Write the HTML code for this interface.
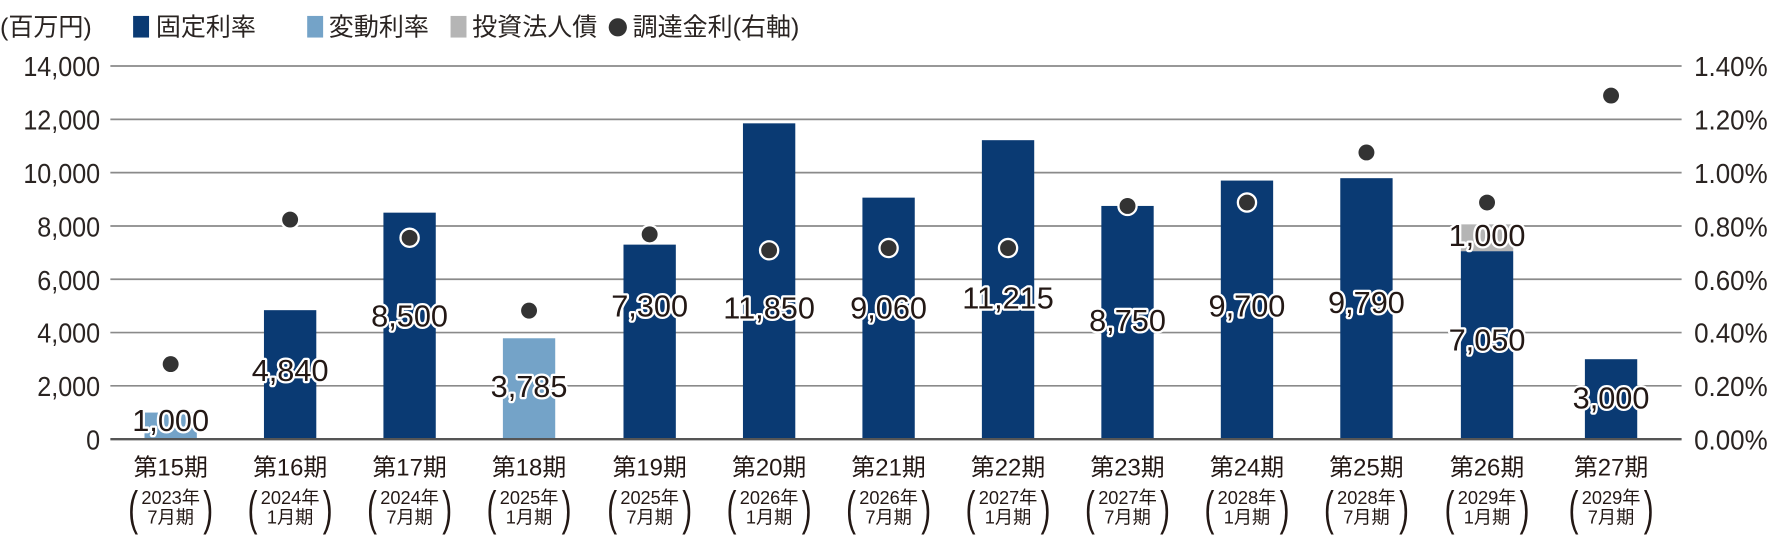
<!DOCTYPE html>
<html><head><meta charset="utf-8"><style>
html,body{margin:0;padding:0;background:#fff;}
svg{display:block;font-family:"Liberation Sans","Noto Sans CJK JP",sans-serif;}
.ax{font-size:24px;fill:#2a2422;}
.lb{font-size:27px;fill:#231815;stroke:#fff;stroke-width:4px;paint-order:stroke;stroke-linejoin:round;font-weight:500;}
.xl{font-size:21px;fill:#231815;}
.xs{font-size:16px;fill:#231815;}
.pr{font-size:26px;fill:#231815;font-weight:300;}
</style></head><body>
<svg width="1784" height="540" viewBox="0 0 1568 474.6" preserveAspectRatio="none">
<g class="ax" style="font-size:22px">
<text x="0" y="31">(百万円)</text>
<rect x="117" y="14" width="14" height="19" fill="#0a3a73"/><text x="137" y="31">固定利率</text>
<rect x="270" y="14" width="14" height="19" fill="#74a3c8"/><text x="289" y="31">変動利率</text>
<rect x="396" y="14" width="14" height="19" fill="#b5b5b5"/><text x="415" y="31">投資法人債</text>
<circle cx="543" cy="24" r="8" fill="#333"/><text x="556" y="31">調達金利(右軸)</text>
</g>
<g stroke="#8a8a8a" stroke-width="1.5">
<line x1="97" x2="1478" y1="58" y2="58"/>
<line x1="97" x2="1478" y1="104.9" y2="104.9"/>
<line x1="97" x2="1478" y1="151.7" y2="151.7"/>
<line x1="97" x2="1478" y1="198.6" y2="198.6"/>
<line x1="97" x2="1478" y1="245.4" y2="245.4"/>
<line x1="97" x2="1478" y1="292.3" y2="292.3"/>
<line x1="97" x2="1478" y1="339.1" y2="339.1"/>
</g>
<g class="ax" text-anchor="end" transform="translate(88,0) scale(0.92,1)">
<text x="0" y="67">14,000</text><text x="0" y="114">12,000</text><text x="0" y="161">10,000</text>
<text x="0" y="208">8,000</text><text x="0" y="255">6,000</text><text x="0" y="301">4,000</text>
<text x="0" y="348">2,000</text><text x="0" y="395">0</text>
</g>
<g class="ax" transform="translate(1489,0) scale(0.95,1)">
<text x="0" y="67">1.40%</text><text x="0" y="114">1.20%</text><text x="0" y="161">1.00%</text>
<text x="0" y="208">0.80%</text><text x="0" y="255">0.60%</text><text x="0" y="301">0.40%</text>
<text x="0" y="348">0.20%</text><text x="0" y="395">0.00%</text>
</g>
<g>
<rect x="127" y="362.6" width="46" height="23.4" fill="#74a3c8"/>
<rect x="232" y="272.6" width="46" height="113.4" fill="#0a3a73"/>
<rect x="337" y="186.9" width="46" height="199.1" fill="#0a3a73"/>
<rect x="442" y="297.3" width="46" height="88.7" fill="#74a3c8"/>
<rect x="548" y="215" width="46" height="171" fill="#0a3a73"/>
<rect x="653" y="108.4" width="46" height="277.6" fill="#0a3a73"/>
<rect x="758" y="173.7" width="46" height="212.3" fill="#0a3a73"/>
<rect x="863" y="123.2" width="46" height="262.8" fill="#0a3a73"/>
<rect x="968" y="181" width="46" height="205" fill="#0a3a73"/>
<rect x="1073" y="158.7" width="46" height="227.3" fill="#0a3a73"/>
<rect x="1178" y="156.6" width="46" height="229.4" fill="#0a3a73"/>
<rect x="1284" y="197.2" width="46" height="23.6" fill="#b5b5b5"/>
<rect x="1284" y="220.8" width="46" height="165.2" fill="#0a3a73"/>
<rect x="1393" y="315.7" width="46" height="70.3" fill="#0a3a73"/>
</g>
<line x1="97" x2="1478" y1="386" y2="386" stroke="#555" stroke-width="2"/>
<g fill="#333" stroke="#fff" stroke-width="2">
<circle cx="150" cy="320" r="8"/><circle cx="255" cy="193" r="8"/><circle cx="360" cy="209" r="8"/>
<circle cx="465" cy="273" r="8"/><circle cx="571" cy="206" r="8"/><circle cx="676" cy="220" r="8"/>
<circle cx="781" cy="218" r="8"/><circle cx="886" cy="218" r="8"/><circle cx="991" cy="181" r="8"/>
<circle cx="1096" cy="178" r="8"/><circle cx="1201" cy="134" r="8"/><circle cx="1307" cy="178" r="8"/>
<circle cx="1416" cy="84" r="8"/>
</g>
<g class="lb" text-anchor="middle">
<text x="150" y="379">1,000</text><text x="255" y="335">4,840</text><text x="360" y="287">8,500</text>
<text x="465" y="349">3,785</text><text x="571" y="278">7,300</text><text x="676" y="280">11,850</text>
<text x="781" y="280">9,060</text><text x="886" y="271">11,215</text><text x="991" y="291">8,750</text>
<text x="1096" y="278">9,700</text><text x="1201" y="275">9,790</text><text x="1307" y="308">7,050</text>
<text x="1307" y="216">1,000</text><text x="1416" y="359">3,000</text>
</g>
<g text-anchor="middle">
<g transform="translate(150,0)"><text class="xl" y="418">第15期</text><text class="xs" y="443">2023年</text><text class="xs" y="460">7月期</text><text class="pr" transform="translate(-33,461) scale(1,1.6)">(</text><text class="pr" transform="translate(33,461) scale(1,1.6)">)</text></g>
<g transform="translate(255,0)"><text class="xl" y="418">第16期</text><text class="xs" y="443">2024年</text><text class="xs" y="460">1月期</text><text class="pr" transform="translate(-33,461) scale(1,1.6)">(</text><text class="pr" transform="translate(33,461) scale(1,1.6)">)</text></g>
<g transform="translate(360,0)"><text class="xl" y="418">第17期</text><text class="xs" y="443">2024年</text><text class="xs" y="460">7月期</text><text class="pr" transform="translate(-33,461) scale(1,1.6)">(</text><text class="pr" transform="translate(33,461) scale(1,1.6)">)</text></g>
<g transform="translate(465,0)"><text class="xl" y="418">第18期</text><text class="xs" y="443">2025年</text><text class="xs" y="460">1月期</text><text class="pr" transform="translate(-33,461) scale(1,1.6)">(</text><text class="pr" transform="translate(33,461) scale(1,1.6)">)</text></g>
<g transform="translate(571,0)"><text class="xl" y="418">第19期</text><text class="xs" y="443">2025年</text><text class="xs" y="460">7月期</text><text class="pr" transform="translate(-33,461) scale(1,1.6)">(</text><text class="pr" transform="translate(33,461) scale(1,1.6)">)</text></g>
<g transform="translate(676,0)"><text class="xl" y="418">第20期</text><text class="xs" y="443">2026年</text><text class="xs" y="460">1月期</text><text class="pr" transform="translate(-33,461) scale(1,1.6)">(</text><text class="pr" transform="translate(33,461) scale(1,1.6)">)</text></g>
<g transform="translate(781,0)"><text class="xl" y="418">第21期</text><text class="xs" y="443">2026年</text><text class="xs" y="460">7月期</text><text class="pr" transform="translate(-33,461) scale(1,1.6)">(</text><text class="pr" transform="translate(33,461) scale(1,1.6)">)</text></g>
<g transform="translate(886,0)"><text class="xl" y="418">第22期</text><text class="xs" y="443">2027年</text><text class="xs" y="460">1月期</text><text class="pr" transform="translate(-33,461) scale(1,1.6)">(</text><text class="pr" transform="translate(33,461) scale(1,1.6)">)</text></g>
<g transform="translate(991,0)"><text class="xl" y="418">第23期</text><text class="xs" y="443">2027年</text><text class="xs" y="460">7月期</text><text class="pr" transform="translate(-33,461) scale(1,1.6)">(</text><text class="pr" transform="translate(33,461) scale(1,1.6)">)</text></g>
<g transform="translate(1096,0)"><text class="xl" y="418">第24期</text><text class="xs" y="443">2028年</text><text class="xs" y="460">1月期</text><text class="pr" transform="translate(-33,461) scale(1,1.6)">(</text><text class="pr" transform="translate(33,461) scale(1,1.6)">)</text></g>
<g transform="translate(1201,0)"><text class="xl" y="418">第25期</text><text class="xs" y="443">2028年</text><text class="xs" y="460">7月期</text><text class="pr" transform="translate(-33,461) scale(1,1.6)">(</text><text class="pr" transform="translate(33,461) scale(1,1.6)">)</text></g>
<g transform="translate(1307,0)"><text class="xl" y="418">第26期</text><text class="xs" y="443">2029年</text><text class="xs" y="460">1月期</text><text class="pr" transform="translate(-33,461) scale(1,1.6)">(</text><text class="pr" transform="translate(33,461) scale(1,1.6)">)</text></g>
<g transform="translate(1416,0)"><text class="xl" y="418">第27期</text><text class="xs" y="443">2029年</text><text class="xs" y="460">7月期</text><text class="pr" transform="translate(-33,461) scale(1,1.6)">(</text><text class="pr" transform="translate(33,461) scale(1,1.6)">)</text></g>
</g>
</svg>
</body></html>
